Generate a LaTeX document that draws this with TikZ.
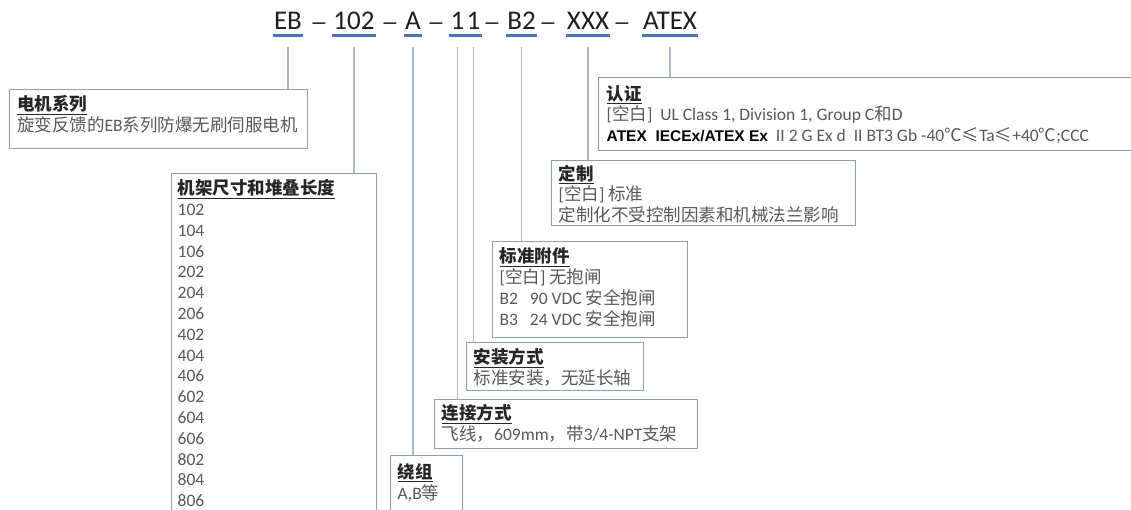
\documentclass[tikz,border=0pt]{standalone}
\usepackage{fontspec}
\setmainfont{Carlito}
\newfontfamily\latinfont{Carlito}
\newfontfamily\cjkfont{Noto Sans CJK SC}
\newfontfamily\titlefont{Carlito}
\newfontfamily\arialfont{Liberation Sans}
% automatic switch to the CJK font for CJK characters
\XeTeXinterchartokenstate=1
\newXeTeXintercharclass\CJKcls
\makeatletter
\newcommand\setcjkrange[2]{\count@=#1\relax
  \loop\XeTeXcharclass\count@=\CJKcls\relax\ifnum\count@<#2\relax\advance\count@ 1\relax\repeat}
\setcjkrange{"4E00}{"9FFF}
\setcjkrange{"3000}{"303F}
\setcjkrange{"FF00}{"FFEF}
\XeTeXcharclass"2103=\CJKcls
\XeTeXcharclass"2264=\CJKcls
\makeatother
\XeTeXinterchartoks 0 \CJKcls = {\cjkfont}
\XeTeXinterchartoks 4095 \CJKcls = {\cjkfont}
\XeTeXinterchartoks \CJKcls 0 = {\latinfont}
\XeTeXinterchartoks \CJKcls 4095 = {\latinfont}
\definecolor{titlec}{HTML}{1E1E1E}
\definecolor{ulc}{HTML}{4A72BC}
\definecolor{connc}{HTML}{A9BACE}
\definecolor{boxc}{HTML}{8A9FBA}
\definecolor{headc}{HTML}{262626}
\definecolor{bodyc}{HTML}{595959}
\newcommand\boxtitle[1]{\rule{0pt}{16pt}\textcolor{headc}{\textbf{\underline{#1}}}}
\tikzset{
  seg/.style={font=\titlefont\fontsize{27}{30}\selectfont, text=titlec, inner xsep=1pt, inner ysep=0pt, anchor=base},
  dashn/.style={font=\arialfont\fontsize{23}{30}\selectfont, text=titlec, inner sep=0pt, anchor=base},
  uline/.style={draw=ulc, line width=2.6pt},
  conn/.style={draw=connc, line width=1.3pt},
  boxn/.style={draw=boxc, line width=1.1pt, fill=white, anchor=north west, inner sep=0pt},
  txt/.style={anchor=north west, inner sep=0pt, align=left, text=bodyc, font=\fontsize{17.5}{20.8}\selectfont},
}
\begin{document}
\begin{tikzpicture}[x=1pt,y=-1pt]
\clip (0,0) rectangle (1131,510);
\fill[white] (0,0) rectangle (1131,510);
% title segments
\node[seg] (s1) at (288,30) {EB};
\node[dashn] (d1) at (319,30) {–};
\node[seg] (s2) at (354,30) {102};
\node[dashn] (d2) at (390,30) {–};
\node[seg] (s3) at (413,30) {A};
\node[dashn] (d3) at (436,30) {–};
\node[seg] (s4) at (457.5,30) {1};
\node[seg] (s5) at (473.5,30) {1};
\node[dashn] (d4) at (492,30) {–};
\node[seg] (s6) at (521.5,30) {B2};
\node[dashn] (d5) at (548,30) {–};
\node[seg] (s7) at (588,30) {XXX};
\node[dashn] (d6) at (622,30) {–};
\node[seg] (s8) at (670,30) {ATEX};
\foreach \s in {s1,s2,s3,s4,s5,s6,s7,s8}
  \draw[uline] ([yshift=-5.5pt]\s.base west) -- ([yshift=-5.5pt]\s.base east);
% boxes
\node[boxn, minimum width=298pt, minimum height=59pt] (b1) at (9,89) {};
\node[boxn, minimum width=205pt, minimum height=360pt] (b2) at (171,173) {};
\node[boxn, minimum width=72pt, minimum height=80pt] (b3) at (390,455) {};
\node[boxn, minimum width=263pt, minimum height=49pt] (b4) at (434,399) {};
\node[boxn, minimum width=177pt, minimum height=48pt] (b5) at (466,342) {};
\node[boxn, minimum width=195pt, minimum height=96pt] (b6) at (492,241) {};
\node[boxn, minimum width=304pt, minimum height=65pt] (b7) at (551,160) {};
\node[boxn, minimum width=560pt, minimum height=73pt] (b8) at (598,77) {};
% connectors
\draw[conn] ([yshift=-17pt]s1.base) -- (s1.base |- b1.north);
\draw[conn] ([yshift=-17pt]s2.base) -- (s2.base |- b2.north);
\draw[conn] ([yshift=-17pt]s3.base) -- (s3.base |- b3.north);
\draw[conn] ([yshift=-17pt]s4.base) -- (s4.base |- b4.north);
\draw[conn] ([yshift=-17pt]s5.base) -- (s5.base |- b5.north);
\draw[conn] ([yshift=-17pt]s6.base) -- (s6.base |- b6.north);
\draw[conn] ([yshift=-17pt]s7.base) -- (s7.base |- b7.north);
\draw[conn] ([yshift=-17pt]s8.base) -- (s8.base |- b8.north);
% texts
\node[txt] (t1) at ([shift={(8,5.5)}]b1.north west) {\boxtitle{电机系列}\\旋变反馈的EB系列防爆无刷伺服电机};
\node[txt] (t2) at ([shift={(6.5,5.5)}]b2.north west) {\boxtitle{机架尺寸和堆叠长度}\\102\\104\\106\\202\\204\\206\\402\\404\\406\\602\\604\\606\\802\\804\\806};
\node[txt] (t3) at ([shift={(7.5,7)}]b3.north west) {\boxtitle{绕组}\\A,B等};
\node[txt] (t4) at ([shift={(7.5,4.5)}]b4.north west) {\boxtitle{连接方式}\\飞线，609mm，带3/4-NPT支架};
\node[txt] (t5) at ([shift={(7.5,5.5)}]b5.north west) {\boxtitle{安装方式}\\标准安装，无延长轴};
\node[txt] (t6) at ([shift={(7.5,5.5)}]b6.north west) {\boxtitle{标准附件}\\{[}空白] 无抱闸\\B2\ \ \ 90 VDC 安全抱闸\\B3\ \ \ 24 VDC 安全抱闸};
\node[txt] (t7) at ([shift={(7.5,4)}]b7.north west) {\boxtitle{定制}\\{[}空白] 标准\\定制化不受控制因素和机械法兰影响};
\node[txt] (t8) at ([shift={(8.5,7)}]b8.north west) {\boxtitle{认证}\\{[}空白]\ \ UL Class 1, Division 1, Group C和D\\{\arialfont\bfseries\fontsize{15.5}{20.8}\selectfont\color{black}ATEX\ \ IECEx/ATEX Ex}\ \ II 2 G Ex d\ \ II BT3 Gb -40℃≤Ta≤+40℃;CCC};
\end{tikzpicture}
\end{document}
